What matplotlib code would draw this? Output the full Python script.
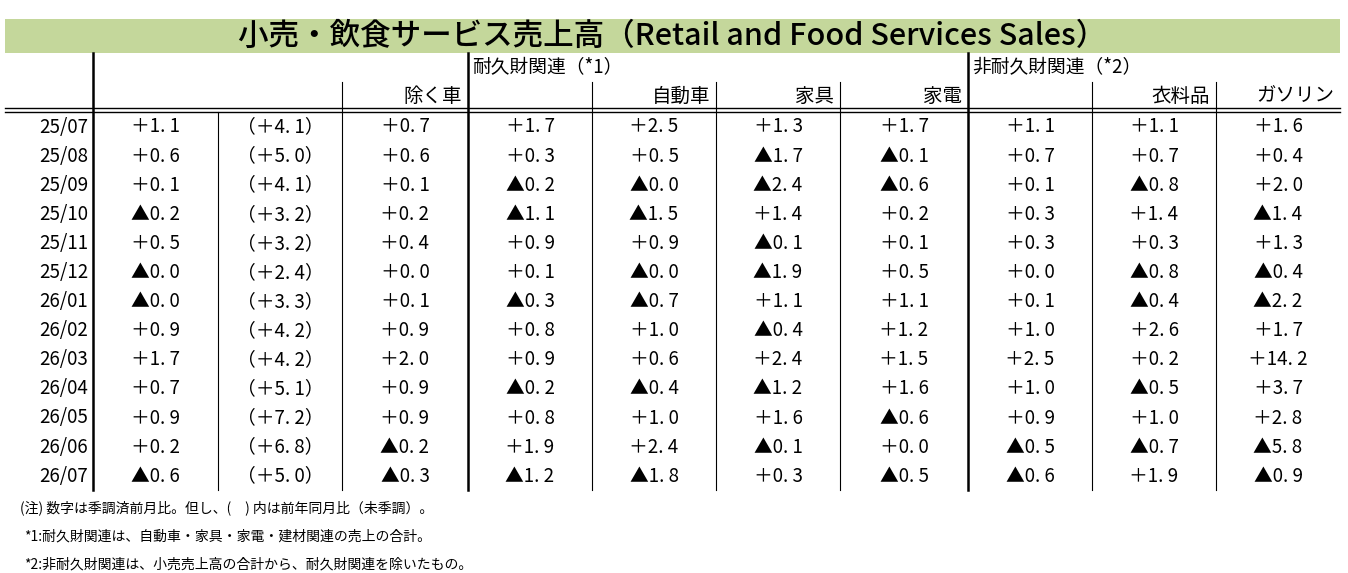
import matplotlib.pyplot as plt
from matplotlib.patches import Rectangle

plt.rcParams['font.family'] = ['Noto Sans CJK JP', 'DejaVu Sans']

title = '小売・飲食サービス売上高（Retail and Food Services Sales）'
months = ['25/07', '25/08', '25/09', '25/10', '25/11', '25/12', '26/01',
          '26/02', '26/03', '26/04', '26/05', '26/06', '26/07']

total = ['+1.1', '+0.6', '+0.1', '-0.2', '+0.5', '-0.0', '-0.0', '+0.9', '+1.7', '+0.7', '+0.9', '+0.2', '-0.6']
total_yoy = ['+4.1', '+5.0', '+4.1', '+3.2', '+3.2', '+2.4', '+3.3', '+4.2', '+4.2', '+5.1', '+7.2', '+6.8', '+5.0']
ex_auto = ['+0.7', '+0.6', '+0.1', '+0.2', '+0.4', '+0.0', '+0.1', '+0.9', '+2.0', '+0.9', '+0.9', '-0.2', '-0.3']
durable = ['+1.7', '+0.3', '-0.2', '-1.1', '+0.9', '+0.1', '-0.3', '+0.8', '+0.9', '-0.2', '+0.8', '+1.9', '-1.2']
auto = ['+2.5', '+0.5', '-0.0', '-1.5', '+0.9', '-0.0', '-0.7', '+1.0', '+0.6', '-0.4', '+1.0', '+2.4', '-1.8']
furniture = ['+1.3', '-1.7', '-2.4', '+1.4', '-0.1', '-1.9', '+1.1', '-0.4', '+2.4', '-1.2', '+1.6', '-0.1', '+0.3']
electronics = ['+1.7', '-0.1', '-0.6', '+0.2', '+0.1', '+0.5', '+1.1', '+1.2', '+1.5', '+1.6', '-0.6', '+0.0', '-0.5']
nondurable = ['+1.1', '+0.7', '+0.1', '+0.3', '+0.3', '+0.0', '+0.1', '+1.0', '+2.5', '+1.0', '+0.9', '-0.5', '-0.6']
clothing = ['+1.1', '+0.7', '-0.8', '+1.4', '+0.3', '-0.8', '-0.4', '+2.6', '+0.2', '-0.5', '+1.0', '-0.7', '+1.9']
gasoline = ['+1.6', '+0.4', '+2.0', '-1.4', '+1.3', '-0.4', '-2.2', '+1.7', '+14.2', '+3.7', '+2.8', '-5.8', '-0.9']

notes = ['(注) 数字は季調済前月比。但し、(　) 内は前年同月比（未季調）。',
         '*1:耐久財関連は、自動車・家具・家電・建材関連の売上の合計。',
         '*2:非耐久財関連は、小売売上高の合計から、耐久財関連を除いたもの。']


def fmt(v, paren=False):
    s = v.replace('+', '＋').replace('-', '▲').replace('.', '. ')
    return '（' + s + '）' if paren else s


cols = [total, total_yoy, ex_auto, durable, auto, furniture, electronics, nondurable, clothing, gasoline]
parens = [False, True] + [False] * 8
xb = [0, 93, 218, 342, 468, 592, 716, 840, 968, 1092, 1216, 1340]
thick = {93, 468, 968}

fig = plt.figure(figsize=(13.48, 5.73), dpi=100)
ax = fig.add_axes([0, 0, 1, 1])
ax.set_xlim(0, 1348)
ax.set_ylim(573, 0)
ax.axis('off')

ax.add_patch(Rectangle((5, 19), 1335, 34, color='#c4d79b', lw=0))
ax.text(672, 36, title, ha='center', va='center', fontsize=22, fontweight='medium')

top, mid, tend = 53, 82, 490
row_h = 29.1
y0 = 127

# header lines
ax.plot([5, 1340], [108, 108], color='black', lw=1)
ax.plot([5, 1340], [111.5, 111.5], color='black', lw=1)
for x in xb[1:-1]:
    if x in thick:
        ax.plot([x, x], [top, tend], color='black', lw=1.8)
    else:
        ystart = 112 if x == 218 else mid
        ax.plot([x, x], [ystart, tend], color='black', lw=0.8)

ax.text(472, 68, '耐久財関連（*1）', ha='left', va='center', fontsize=13.5)
ax.text(972, 68, '非耐久財関連（*2）', ha='left', va='center', fontsize=13.5)
sub = {3: '除く車', 5: '自動車', 6: '家具', 7: '家電', 9: '衣料品', 10: 'ガソリン'}
for i, lab in sub.items():
    ax.text(xb[i + 1] - 6, 96, lab, ha='right', va='center', fontsize=14)

for r, m in enumerate(months):
    y = y0 + r * row_h
    ax.text(88, y, m, ha='right', va='center', fontsize=13.5)
    for c, col in enumerate(cols):
        xc = (xb[c + 1] + xb[c + 2]) / 2
        ax.text(xc, y, fmt(col[r], parens[c]), ha='center', va='center', fontsize=13.5)

for k, n in enumerate(notes):
    ax.text(20 if k == 0 else 24, 508 + k * 28, n, ha='left', va='center', fontsize=10)

fig.savefig('out.png', dpi=100)
